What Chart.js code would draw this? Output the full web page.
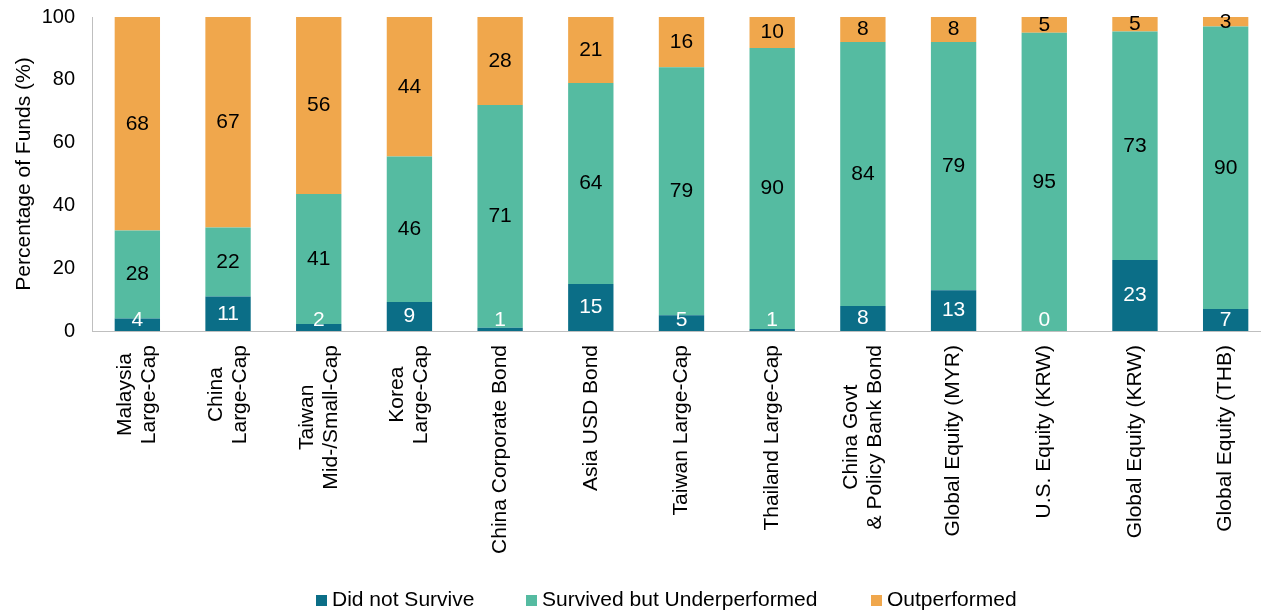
<!DOCTYPE html>
<html>
<head>
<meta charset="utf-8">
<script src="https://cdn.jsdelivr.net/npm/chart.js@4/dist/chart.umd.min.js"></script>
<style>
html,body{margin:0;padding:0;background:#fff;overflow:hidden;}
#wrap{width:1324px;height:611px;position:relative;}
#c{position:absolute;left:0;top:0;}
#legend{position:absolute;left:0;top:0;width:1261px;height:611px;pointer-events:none;
  font-family:'Liberation Sans',Arial,sans-serif;font-size:21px;color:#000;}
.li{position:absolute;top:587px;height:24px;line-height:24px;white-space:nowrap;}
.li .bx{display:inline-block;width:11px;height:11px;margin-right:5px;vertical-align:0px;}
</style>
</head>
<body>
<div id="wrap">
<canvas id="c" width="1324" height="611"></canvas>
<div id="legend"></div>
</div>
<script>
const categories = [
  ["Malaysia","Large-Cap"],
  ["China","Large-Cap"],
  ["Taiwan","Mid-/Small-Cap"],
  ["Korea","Large-Cap"],
  "China Corporate Bond",
  "Asia USD Bond",
  "Taiwan Large-Cap",
  "Thailand Large-Cap",
  ["China Govt","& Policy Bank Bond"],
  "Global Equity (MYR)",
  "U.S. Equity (KRW)",
  "Global Equity (KRW)",
  "Global Equity (THB)"
];
const seriesNames = ["Did not Survive", "Survived but Underperformed", "Outperformed"];
const didNotSurvive = [4, 11, 2.2, 9.2, 1, 15, 5, 0.6, 8, 13, 0, 22.6, 7];
const survivedUnder = [28, 22, 41.4, 46.4, 71, 64, 79, 89.5, 84, 79, 95, 72.8, 90];
const outperformed  = [68, 67, 56.4, 44.4, 28, 21, 16, 9.9, 8, 8, 5, 4.6, 3];
const yTicks = [0, 20, 40, 60, 80, 100];
const seriesColors = ['#0b6e87', '#55bba1', '#f0a74c'];

const FONT = "'Liberation Sans', Arial, sans-serif";

// value labels inside each stacked segment
const labelPlugin = {
  id: 'segLabels',
  afterDatasetsDraw(chart) {
    const ctx = chart.ctx;
    ctx.save();
    ctx.font = "21px " + FONT;
    ctx.textAlign = 'center';
    ctx.textBaseline = 'middle';
    chart.data.datasets.forEach((ds, di) => {
      const meta = chart.getDatasetMeta(di);
      meta.data.forEach((bar, i) => {
        let cy = (bar.y + bar.base) / 2;
        if (di === 0 && bar.base - cy < 12) cy = bar.base - 11;
        ctx.fillStyle = di === 0 ? '#ffffff' : '#000000';
        ctx.fillText(String(Math.round(ds.data[i])), bar.x, cy);
      });
    });
    ctx.restore();
  }
};

// rotated category labels, lines centred on each other (as in the original)
const xLabelPlugin = {
  id: 'xLabels',
  afterDraw(chart) {
    const xs = chart.scales.x;
    const ctx = chart.ctx;
    ctx.save();
    ctx.font = "21px " + FONT;
    ctx.fillStyle = '#000';
    ctx.textBaseline = 'middle';
    ctx.textAlign = 'center';
    chart.data.labels.forEach((lab, i) => {
      const lines = Array.isArray(lab) ? lab : [lab];
      const maxW = Math.max(...lines.map(l => ctx.measureText(l).width));
      const px = xs.getPixelForTick(i);
      ctx.save();
      ctx.translate(px, xs.top + 14);
      ctx.rotate(-Math.PI / 2);
      lines.forEach((l, j) => {
        const off = (j - (lines.length - 1) / 2) * 24;
        ctx.fillText(l, -maxW / 2, off);
      });
      ctx.restore();
    });
    ctx.restore();
  }
};

const chart = new Chart(document.getElementById('c'), {
  type: 'bar',
  data: {
    labels: categories,
    datasets: [
      { label: seriesNames[0], data: didNotSurvive, backgroundColor: seriesColors[0] },
      { label: seriesNames[1], data: survivedUnder, backgroundColor: seriesColors[1] },
      { label: seriesNames[2], data: outperformed, backgroundColor: seriesColors[2] }
    ]
  },
  options: {
    responsive: false,
    animation: false,
    layout: { padding: { top: 17, right: 53, left: 12, bottom: 0 } },
    datasets: { bar: { categoryPercentage: 1.0, barPercentage: 0.5 } },
    plugins: {
      legend: { display: false },
      tooltip: { enabled: false }
    },
    scales: {
      x: {
        stacked: true,
        grid: { display: false, drawTicks: false },
        border: { display: true, color: '#bfbfbf', width: 1 },
        ticks: { display: false, autoSkip: false },
        afterFit(scale) { scale.height = 280; }
      },
      y: {
        stacked: true,
        min: 0, max: 100,
        afterBuildTicks(scale) { scale.ticks = yTicks.map(v => ({ value: v })); },
        grid: { display: false, drawTicks: false },
        border: { display: true, color: '#bfbfbf', width: 1 },
        ticks: {
          color: '#000',
          font: { family: FONT, size: 20, lineHeight: '0px' },
          padding: 17,
          autoSkip: false
        },
        title: {
          display: true,
          text: 'Percentage of Funds (%)',
          color: '#000',
          font: { family: FONT, size: 21 },
          padding: { top: 0, bottom: 0 }
        },
        afterFit(scale) { scale.width = 80; }
      }
    }
  },
  plugins: [labelPlugin, xLabelPlugin]
});

// Legend (HTML text), built from the dataset names and colours
const legendLefts = [316, 526, 871];
const lg = document.getElementById('legend');
seriesNames.forEach((name, i) => {
  const d = document.createElement('div');
  d.className = 'li';
  d.style.left = legendLefts[i] + 'px';
  const b = document.createElement('span');
  b.className = 'bx';
  b.style.background = seriesColors[i];
  d.appendChild(b);
  d.appendChild(document.createTextNode(name));
  lg.appendChild(d);
});
</script>
</body>
</html>
